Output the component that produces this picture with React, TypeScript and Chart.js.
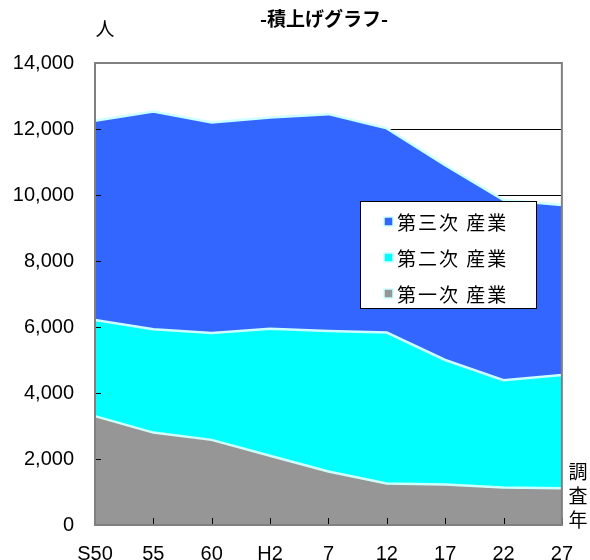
import React, { useEffect, useRef } from "react";
import { Chart, registerables } from "chart.js";

Chart.register(...registerables);

const years = ["S50", "55", "60", "H2", "7", "12", "17", "22", "27"];
const primary = [3300, 2800, 2580, 2100, 1620, 1260, 1230, 1140, 1110];
const secondary = [2910, 3130, 3240, 3850, 4260, 4570, 3770, 3250, 3435];
const tertiary = [6040, 6600, 6380, 6400, 6570, 6190, 5900, 5460, 5155];
const seriesNames = ["第一次 産業", "第二次 産業", "第三次 産業"];
const seriesColors = ["#969696", "#00ffff", "#3366ff"];
const titleText = "-積上げグラフ-";
const yUnit = "人";
const xUnit = ["調", "査", "年"];

const JP = "'Noto Sans CJK JP', 'Noto Sans', sans-serif";
const NUM = "'Liberation Sans', Arial, sans-serif";

const decor = {
  id: "decor",
  afterDatasetsDraw(chart: any) {
    const { ctx, chartArea: a, scales } = chart;
    const x = scales.x;
    const y = scales.y;
    ctx.save();
    ctx.strokeStyle = "#000";
    ctx.lineWidth = 1;
    y.ticks.forEach((t: any) => {
      const py = Math.round(y.getPixelForValue(t.value)) + 0.5;
      ctx.beginPath();
      ctx.moveTo(a.left, py);
      ctx.lineTo(a.left + 6, py);
      ctx.stroke();
    });
    x.ticks.forEach((_t: any, i: number) => {
      const px = Math.round(x.getPixelForTick(i)) + 0.5;
      ctx.beginPath();
      ctx.moveTo(px, a.bottom);
      ctx.lineTo(px, a.bottom - 7);
      ctx.stroke();
    });
    ctx.strokeStyle = "#808080";
    ctx.lineWidth = 2;
    ctx.strokeRect(a.left, a.top, a.right - a.left, a.bottom - a.top);
    ctx.restore();
  },
  afterDraw(chart: any) {
    const { ctx } = chart;
    ctx.save();
    // title
    ctx.fillStyle = "#000";
    ctx.textAlign = "center";
    ctx.textBaseline = "middle";
    ctx.font = `bold 19px ${JP}`;
    ctx.fillText(titleText, 324, 19);
    // y unit
    ctx.font = `19px ${JP}`;
    ctx.fillText(yUnit, 105, 29);
    // x unit (vertical)
    ctx.font = `19px ${JP}`;
    const ys = [472, 496, 520];
    xUnit.forEach((c, i) => ctx.fillText(c, 578, ys[i]));
    // legend
    const bx = 360.5, by = 201.5, bw = 176, bh = 107;
    ctx.fillStyle = "#fff";
    ctx.fillRect(bx, by, bw, bh);
    ctx.strokeStyle = "#000";
    ctx.lineWidth = 1;
    ctx.strokeRect(bx, by, bw, bh);
    const rows = [221.5, 257.5, 293.5];
    const ds = chart.data.datasets;
    ctx.textAlign = "left";
    ctx.font = `19px ${JP}`;
    try { (ctx as any).letterSpacing = "2px"; } catch (e) {}
    for (let k = 0; k < ds.length; k++) {
      const d = ds[ds.length - 1 - k];
      const cy = rows[k];
      ctx.fillStyle = d.backgroundColor;
      ctx.fillRect(384, cy - 4.5, 9, 9);
      ctx.strokeStyle = "#ccffff";
      ctx.lineWidth = 1.5;
      ctx.strokeRect(384, cy - 4.5, 9, 9);
      ctx.fillStyle = "#000";
      ctx.fillText(d.label, 397, cy + 1);
    }
    ctx.restore();
  },
};

export default function App() {
  const ref = useRef<HTMLCanvasElement | null>(null);
  useEffect(() => {
    if (!ref.current) return;
    const series = [primary, secondary, tertiary];
    const chart = new Chart(ref.current, {
      type: "line",
      data: {
        labels: years,
        datasets: series.map((s, i) => ({
          label: seriesNames[i],
          data: s,
          backgroundColor: seriesColors[i],
          borderColor: "#ccffff",
          borderWidth: 2.5,
          pointRadius: 0,
          tension: 0,
          fill: i === 0 ? "origin" : "-1",
        })),
      },
      options: {
        animation: false,
        responsive: false,
        devicePixelRatio: 1,
        layout: { padding: { top: 63, right: 26, left: 0, bottom: 0 } },
        plugins: {
          legend: { display: false },
          title: { display: false },
          tooltip: { enabled: false },
        },
        scales: {
          x: {
            type: "category",
            offset: false,
            grid: { display: false, drawTicks: false },
            border: { display: false },
            ticks: {
              color: "#000",
              font: { family: NUM, size: 20 },
              padding: 17,
              maxRotation: 0,
              autoSkip: false,
            },
            afterFit: (s: any) => {
              s.height = 35;
            },
          },
          y: {
            stacked: true,
            min: 0,
            max: 14000,
            grid: { color: "#000", lineWidth: 1, drawTicks: false },
            border: { display: false },
            ticks: {
              stepSize: 2000,
              color: "#000",
              font: { family: NUM, size: 20 },
              padding: 21,
              callback: (v: any) => Number(v).toLocaleString("en-US"),
            },
            afterFit: (s: any) => {
              s.width = 95;
            },
          },
        },
      },
      plugins: [decor],
    });
    return () => chart.destroy();
  }, []);
  return (
    <div style={{ position: "absolute", left: 0, top: 0, width: 590, height: 560 }}>
      <canvas ref={ref} width={590} height={560} />
    </div>
  );
}
